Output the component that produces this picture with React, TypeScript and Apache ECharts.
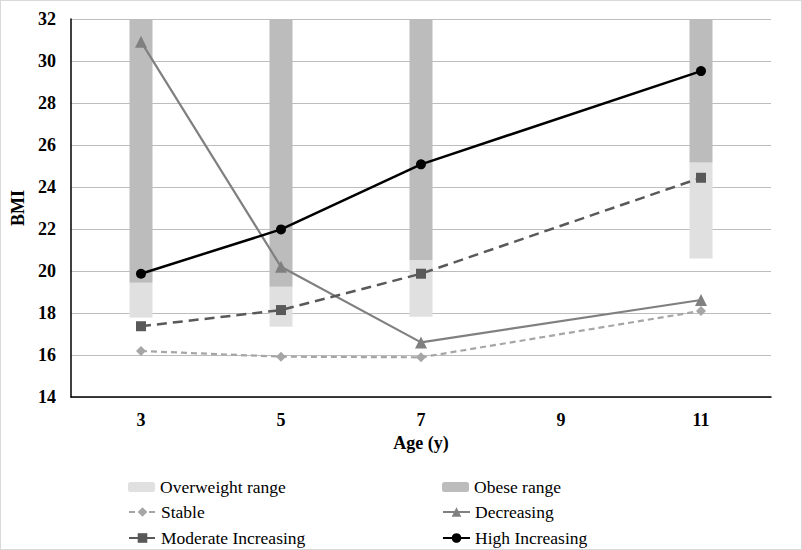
import React, { useEffect, useRef } from "react";
import * as echarts from "echarts";

const ages = ["3", "5", "7", "9", "11"];
const overweightLow = [17.78, 17.35, 17.82, null, 20.6];
const overweightHigh = [19.44, 19.25, 20.52, null, 25.17];
const obeseTop = [32, 32, 32, null, 32];
const stable = [16.19, 15.92, 15.89, null, 18.1];
const decreasing = [30.92, 20.2, 16.6, null, 18.62];
const moderateIncreasing = [17.37, 18.14, 19.87, null, 24.44];
const highIncreasing = [19.87, 21.98, 25.08, null, 29.52];
const yTicks = { min: 14, max: 32, interval: 2 };

const FONT = "Liberation Serif";

export default function App() {
  const ref = useRef<HTMLDivElement>(null);
  useEffect(() => {
    const chart = echarts.init(ref.current!, undefined, { renderer: "svg" });
    const owBand = overweightHigh.map((h, i) =>
      h == null || overweightLow[i] == null ? null : +(h - (overweightLow[i] as number)).toFixed(2)
    );
    const obBand = obeseTop.map((t, i) =>
      t == null || overweightHigh[i] == null ? null : +(t - (overweightHigh[i] as number)).toFixed(2)
    );
    const legendText = { fontFamily: FONT, fontSize: 17.5, color: "#000" };
    const mkLegend = (name: string, left: number, top: number, w: number, h: number) => ({
      data: [name],
      left,
      top,
      itemWidth: w,
      itemHeight: h,
      itemGap: 4,
      textStyle: legendText,
      selectedMode: false,
      padding: 0,
    });
    const axisFont = { fontFamily: FONT, fontSize: 18, fontWeight: "bold", color: "#000" };
    chart.setOption({
      animation: false,
      backgroundColor: "#fff",
      grid: { left: 69, right: 30, top: 18, bottom: 152, containLabel: false },
      legend: [
        mkLegend("Overweight range", 127, 477, 27, 10),
        mkLegend("Obese range", 441, 477, 27, 10),
        mkLegend("Stable", 127, 502, 27, 12),
        mkLegend("Decreasing", 441, 502, 27, 12),
        mkLegend("Moderate Increasing", 127, 528, 27, 12),
        mkLegend("High Increasing", 441, 528, 27, 12),
      ],
      xAxis: {
        type: "category",
        data: ages,
        boundaryGap: true,
        name: "Age (y)",
        nameLocation: "middle",
        nameGap: 37,
        nameTextStyle: axisFont,
        axisLine: { lineStyle: { color: "#000", width: 1.5 } },
        axisTick: { show: false },
        axisLabel: { ...axisFont, margin: 14 },
      },
      yAxis: {
        type: "value",
        min: yTicks.min,
        max: yTicks.max,
        interval: yTicks.interval,
        name: "BMI",
        nameLocation: "middle",
        nameGap: 44,
        nameRotate: 90,
        nameTextStyle: axisFont,
        axisLine: { show: true, lineStyle: { color: "#000", width: 1.5 } },
        axisTick: { show: false },
        axisLabel: { ...axisFont, margin: 15 },
        splitLine: { lineStyle: { color: "#bdbdbd", width: 1 } },
      },
      series: [
        {
          name: "base",
          type: "bar",
          stack: "r",
          data: overweightLow,
          barWidth: 23,
          itemStyle: { color: "transparent" },
          silent: true,
        },
        {
          name: "Overweight range",
          type: "bar",
          stack: "r",
          data: owBand,
          barWidth: 23,
          itemStyle: { color: "#e0e0e0" },
        },
        {
          name: "Obese range",
          type: "bar",
          stack: "r",
          data: obBand,
          barWidth: 23,
          itemStyle: { color: "#bcbcbc" },
        },
        {
          name: "Stable",
          type: "line",
          data: stable,
          connectNulls: true,
          symbol: "diamond",
          symbolSize: 10,
          lineStyle: { color: "#a6a6a6", width: 2.2, type: [6, 4] },
          itemStyle: { color: "#a6a6a6" },
        },
        {
          name: "Decreasing",
          type: "line",
          data: decreasing,
          connectNulls: true,
          symbol: "triangle",
          symbolSize: 12,
          lineStyle: { color: "#808080", width: 2.2 },
          itemStyle: { color: "#808080" },
        },
        {
          name: "Moderate Increasing",
          type: "line",
          data: moderateIncreasing,
          connectNulls: true,
          symbol: "rect",
          symbolSize: 10,
          lineStyle: { color: "#595959", width: 2.5, type: [10, 6] },
          itemStyle: { color: "#595959" },
        },
        {
          name: "High Increasing",
          type: "line",
          data: highIncreasing,
          connectNulls: true,
          symbol: "circle",
          symbolSize: 10,
          lineStyle: { color: "#000", width: 2.5 },
          itemStyle: { color: "#000" },
        },
      ],
    });
    return () => chart.dispose();
  }, []);
  return (
    <div
      style={{
        position: "absolute",
        left: 0,
        top: 0,
        width: 802,
        height: 550,
        boxSizing: "border-box",
        border: "1px solid #d9d9d9",
        background: "#fff",
      }}
    >
      <div ref={ref} style={{ width: 800, height: 548 }} />
    </div>
  );
}
